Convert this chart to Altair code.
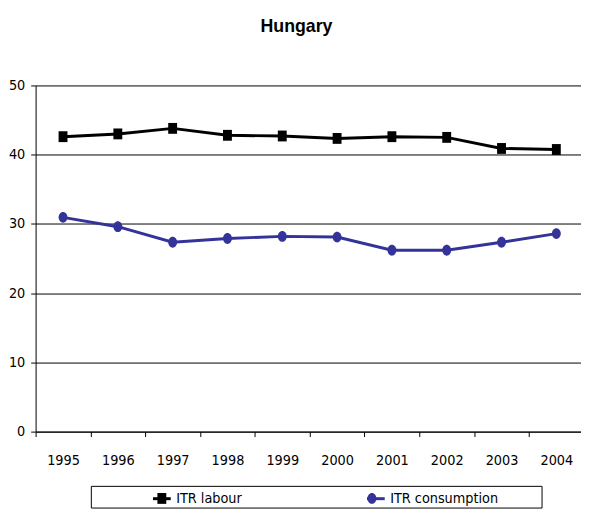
import altair as alt
import pandas as pd

years = [1995, 1996, 1997, 1998, 1999, 2000, 2001, 2002, 2003, 2004]
itr_labour = [42.6, 43.0, 43.8, 42.8, 42.7, 42.35, 42.6, 42.5, 40.9, 40.75]
itr_consumption = [30.95, 29.6, 27.35, 27.9, 28.2, 28.1, 26.2, 26.2, 27.35, 28.6]
series_names = ["ITR labour", "ITR consumption"]
series_colors = ["#000000", "#333399"]
y_ticks = [0, 10, 20, 30, 40, 50]

rows = []
for name, vals in zip(series_names, [itr_labour, itr_consumption]):
    for yr, v in zip(years, vals):
        rows.append({"year": yr, "value": v, "series": name})
df = pd.DataFrame(rows)

FONT = "DejaVu Sans Condensed, Liberation Sans Narrow, sans-serif"
FS = 14.5
boundaries = [y - 0.5 for y in years]

# marker shapes (slightly taller than wide)
square_path = "M-0.45,-0.55H0.45V0.55H-0.45Z"
ellipse_path = "M0.45,0A0.45,0.55 0 1,1 -0.45,0A0.45,0.55 0 1,1 0.45,0Z"

x_enc = alt.X(
    "year:Q",
    scale=alt.Scale(domain=[1994.5, 2004.45], nice=False, zero=False),
    axis=alt.Axis(
        title=None, values=boundaries, grid=False,
        labelExpr="format(datum.value + 0.5, 'd')",
        labelOffset=27.8, labelFlush=False, labelOverlap=False,
        labelFont=FONT, labelFontSize=FS, labelColor="black",
        labelPadding=17, tickSize=5, tickColor="black",
        domainColor="black", domainWidth=1,
    ),
)
y_enc = alt.Y(
    "value:Q",
    scale=alt.Scale(domain=[0, 50], nice=False),
    axis=alt.Axis(
        title=None, values=y_ticks, grid=True, gridColor="black", gridWidth=1,
        gridOpacity=1, labelFont=FONT, labelFontSize=FS, labelColor="black",
        labelPadding=6, tickSize=5, tickColor="black",
        domainColor="black", domainWidth=1,
    ),
)

pad_right = "\u00a0" * 10 + "\u200b"
legend_common = dict(
    orient="none", legendX=56, legendY=406, direction="horizontal",
    title="\u00a0", titleOrient="left", titleFontSize=1, titlePadding=59,
    padding=2.5, columnPadding=120, labelFont=FONT, labelFontSize=FS,
    labelColor="black", labelLimit=400,
    labelExpr="datum.label == 'ITR consumption' ? datum.label + '" + pad_right + "' : datum.label",
)

color_scale = alt.Scale(domain=series_names, range=series_colors)

lines = alt.Chart(df).mark_line(strokeWidth=3).encode(
    x=x_enc, y=y_enc,
    color=alt.Color("series:N", scale=color_scale, sort=series_names,
                    legend=alt.Legend(**legend_common, symbolType="stroke",
                                      symbolSize=324, symbolStrokeWidth=3,
                                      labelOffset=4, strokeColor="black")),
)

point_legend = alt.Legend(**legend_common, symbolSize=400, symbolStrokeWidth=0,
                          symbolOffset=0.5, labelOffset=5, labelOpacity=0)

points = alt.Chart(df).mark_point(filled=True, size=400, opacity=1).encode(
    x=x_enc, y=y_enc,
    color=alt.Color("series:N", scale=color_scale, sort=series_names, legend=point_legend),
    shape=alt.Shape("series:N", sort=series_names,
                    scale=alt.Scale(domain=series_names, range=[square_path, ellipse_path]),
                    legend=point_legend),
)

chart = alt.layer(lines, points).resolve_legend(
    color="independent", shape="independent"
).properties(
    width=553, height=351,
    title=alt.TitleParams("Hungary", font="Liberation Sans", fontSize=18,
                          fontWeight="bold", color="black", anchor="middle",
                          dx=-12, baseline="alphabetic", offset=28),
    autosize=alt.AutoSizeParams(type="none"),
    padding={"left": 28, "top": 75, "right": 0, "bottom": 80},
    background="white",
).configure_view(stroke=None)

chart.save("out.html", embed_options={"renderer": "svg", "actions": False})
